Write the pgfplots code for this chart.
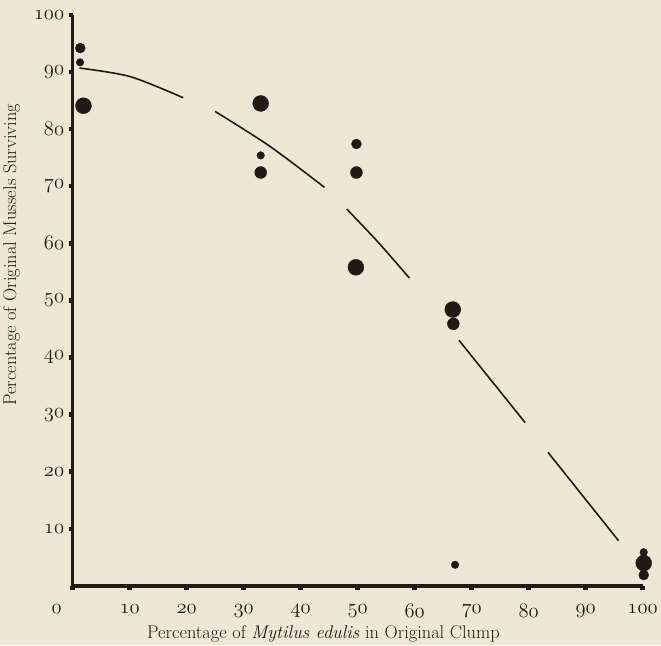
\documentclass[border=0pt]{standalone}
\usepackage{pgfplots}
\pgfplotsset{compat=1.18}
\usepackage{xcolor}
\definecolor{paper}{RGB}{240,230,212}
\definecolor{ink}{RGB}{35,24,22}
\pagecolor{paper}

% old-style figures come from the math italic font
\newcommand{\os}[1]{$\mathnormal{#1}$}

\begin{document}
\begin{tikzpicture}
\begin{axis}[
    scale only axis,
    width=572bp, height=573bp,
    xmin=0, xmax=100, ymin=0, ymax=100,
    axis lines=left,
    axis line style={ink, line width=3.2bp, -},
    clip=false,
    xtick={0,10,...,100},
    xticklabels={\makebox[0pt][r]{\os{0}\hspace{11bp}},\os{10},\os{20},\os{30},\os{40},\os{50},\os{60},\os{70},\os{80},\os{90},\os{100}},
    ytick={10,20,...,100},
    yticklabels={\os{10},\os{20},\os{30},\os{40},\os{50},\os{60},\os{70},\os{80},\os{90},\os{100}},
    tick align=outside,
    major tick length=4bp,
    tick style={ink, line width=4.5bp},
    ticklabel style={ink, font=\fontsize{20}{24}\selectfont},
    xticklabel style={yshift=-11bp},
    yticklabel style={xshift=-1bp},
    xlabel={Percentage of \textit{Mytilus edulis} in Original Clump},
    ylabel={Percentage of Original Mussels Surviving},
    label style={ink, font=\fontsize{18.5}{22}\selectfont},
    xlabel style={at={(axis description cs:0.44,-0.084)}, anchor=center},
    ylabel style={at={(axis description cs:-0.107,0.58)}, anchor=center},
]
% fitted curve, drawn broken as in the original
\addplot[ink, line width=1.6bp, smooth] coordinates {(1.2,90.7) (10.1,89.2) (19.4,85.5)};
\addplot[ink, line width=1.6bp, smooth] coordinates {(25,83.1) (34.6,77.0) (44.2,69.8)};
\addplot[ink, line width=1.6bp, smooth] coordinates {(48.1,66.0) (53.6,60.2) (59.1,53.9)};
\addplot[ink, line width=1.6bp] coordinates {(67.8,43.0) (79.4,28.6)};
\addplot[ink, line width=1.6bp] coordinates {(83.4,23.4) (95.8,7.9)};

% observations, dot size as in the original
\addplot[only marks, mark=*, mark size=8bp, ink, mark options={fill=ink}]
  coordinates {(1.9,84.1) (33.0,84.5) (49.7,55.8) (66.7,48.4) (100.2,4.0)};
\addplot[only marks, mark=*, mark size=6bp, ink, mark options={fill=ink}]
  coordinates {(33.0,72.4) (49.8,72.4) (66.8,45.9)};
\addplot[only marks, mark=*, mark size=5bp, ink, mark options={fill=ink}]
  coordinates {(1.35,94.2) (49.8,77.4) (100.2,1.9)};
\addplot[only marks, mark=*, mark size=3.8bp, ink, mark options={fill=ink}]
  coordinates {(1.3,91.7) (33.0,75.4) (67.1,3.7) (100.2,5.9)};

% room above the top tick label, as in the original
\path (rel axis cs:0,1) ++(0,15bp);
\end{axis}
\end{tikzpicture}
\end{document}
